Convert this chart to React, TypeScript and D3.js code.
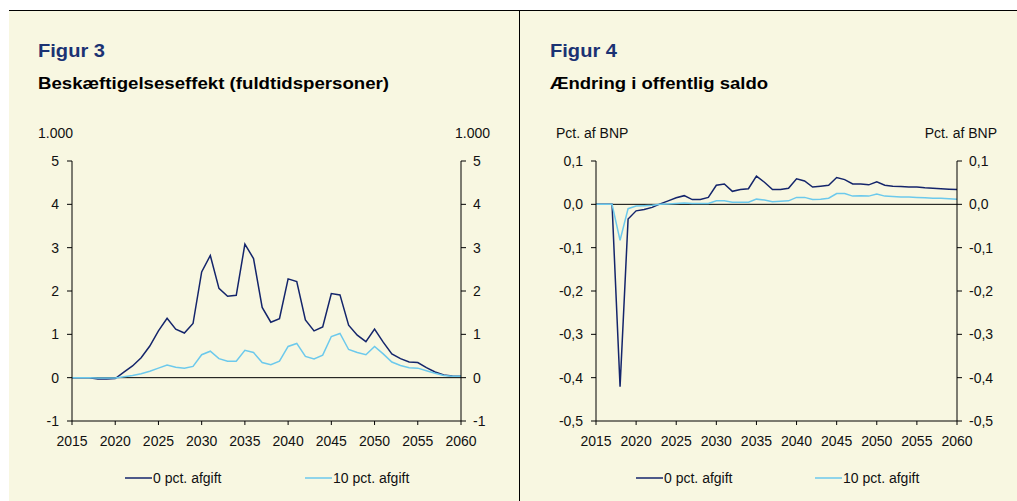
import React from 'react';
import { scaleLinear, line, format, range } from 'd3';

// years 2015..2060
const years = range(2015, 2061);

// Figur 3: beskæftigelseseffekt, 1.000 fuldtidspersoner
const emp0 = [
  0, 0, 0, -0.03, -0.03, -0.02, 0.13, 0.27, 0.46, 0.73,
  1.08, 1.37, 1.12, 1.03, 1.25, 2.44, 2.82, 2.06, 1.88, 1.9,
  3.08, 2.75, 1.62, 1.28, 1.36, 2.28, 2.22, 1.33, 1.08, 1.17,
  1.94, 1.91, 1.21, 0.98, 0.83, 1.12, 0.82, 0.55, 0.44, 0.36,
  0.35, 0.23, 0.13, 0.06, 0.04, 0.03
];
const emp10 = [
  0, 0, 0, -0.01, -0.01, -0.01, 0.02, 0.05, 0.09, 0.15,
  0.22, 0.29, 0.24, 0.22, 0.26, 0.53, 0.61, 0.44, 0.38, 0.38,
  0.63, 0.58, 0.35, 0.3, 0.38, 0.72, 0.79, 0.49, 0.43, 0.52,
  0.95, 1.02, 0.65, 0.58, 0.53, 0.72, 0.55, 0.36, 0.28, 0.23,
  0.22, 0.16, 0.1, 0.05, 0.03, 0.03
];

// Figur 4: ændring i offentlig saldo, pct. af BNP
const bal0 = [
  0, 0, 0, -0.421, -0.034, -0.015, -0.012, -0.007, 0.001, 0.008,
  0.015, 0.02, 0.011, 0.011, 0.016, 0.044, 0.047, 0.03, 0.034, 0.036,
  0.065, 0.051, 0.034, 0.034, 0.037, 0.059, 0.054, 0.04, 0.042, 0.044,
  0.062, 0.057, 0.047, 0.047, 0.045, 0.052, 0.044, 0.042, 0.041, 0.04,
  0.04, 0.038, 0.037, 0.036, 0.035, 0.034
];
const bal10 = [
  0, 0, 0, -0.083, -0.01, -0.004, -0.003, -0.002, 0, 0.001,
  0.002, 0.003, 0.002, 0.002, 0.002, 0.008, 0.008, 0.005, 0.005, 0.005,
  0.012, 0.01, 0.006, 0.007, 0.008, 0.016, 0.016, 0.011, 0.012, 0.014,
  0.025, 0.025, 0.019, 0.02, 0.019, 0.024, 0.019, 0.018, 0.017, 0.017,
  0.016, 0.015, 0.014, 0.014, 0.013, 0.012
];

const xTicks = [2015, 2020, 2025, 2030, 2035, 2040, 2045, 2050, 2055, 2060];
const empTicks = [-1, 0, 1, 2, 3, 4, 5];
const balTicks = [-0.5, -0.4, -0.3, -0.2, -0.1, 0, 0.1];
const seriesNames = ['0 pct. afgift', '10 pct. afgift'];

const DARK = '#14256B';
const LIGHT = '#6CC9EC';
const NAVY = '#1B3273';
const FONT = '"Liberation Sans", Arial, sans-serif';

const commaFmt = (v: number) => format('.1f')(v).replace('.', ',').replace('−', '-');

type PanelProps = {
  left: number;
  x0: number;
  x1: number;
  domain: [number, number];
  ticks: number[];
  fmt: (v: number) => string;
  fig: string;
  title: string;
  titleLen: number;
  unit: string;
  unitRightEnd: number;
  series: number[][];
  legendX: [number, number];
  labelGapL: number;
};

const Panel = (p: PanelProps) => {
  const top = 161;
  const bottom = 421;
  const x = scaleLinear().domain([2015, 2060]).range([p.x0, p.x1]);
  const y = scaleLinear().domain(p.domain).range([bottom, top]);
  const path = line<number>()
    .x((_, i) => x(years[i]))
    .y(d => y(d));
  const colors = [DARK, LIGHT];

  return (
    <g fontFamily={FONT}>
      <text x={p.left} y={57} fontSize={19} fontWeight="bold" fill={NAVY}
        textLength={67} lengthAdjust="spacingAndGlyphs">{p.fig}</text>
      <text x={p.left} y={89} fontSize={16} fontWeight="bold" fill="#000"
        textLength={p.titleLen} lengthAdjust="spacingAndGlyphs">{p.title}</text>
      <text x={p.left + p.labelGapL} y={138} fontSize={14} fill="#111">{p.unit}</text>
      <text x={p.unitRightEnd} y={138} fontSize={14} fill="#111" textAnchor="end">{p.unit}</text>

      {/* zero line */}
      <line x1={p.x0} x2={p.x1} y1={y(0)} y2={y(0)} stroke="#000" strokeWidth={1} />

      {/* series */}
      {p.series.map((s, i) => (
        <path key={i} d={path(s) || ''} fill="none" stroke={colors[i]} strokeWidth={1.5} />
      ))}

      {/* left & right axes */}
      <line x1={p.x0} x2={p.x0} y1={top} y2={bottom} stroke="#000" />
      <line x1={p.x1} x2={p.x1} y1={top} y2={bottom} stroke="#000" />
      {p.ticks.map(t => (
        <g key={t}>
          <line x1={p.x0 - 5} x2={p.x0} y1={y(t)} y2={y(t)} stroke="#000" />
          <line x1={p.x1} x2={p.x1 + 5} y1={y(t)} y2={y(t)} stroke="#000" />
          <text x={p.x0 - 13} y={y(t) + 5} fontSize={14} textAnchor="end" fill="#111">{p.fmt(t)}</text>
          <text x={p.x1 + 12} y={y(t) + 5} fontSize={14} fill="#111">{p.fmt(t)}</text>
        </g>
      ))}

      {/* bottom axis */}
      <line x1={p.x0} x2={p.x1} y1={bottom} y2={bottom} stroke="#000" />
      {xTicks.map(t => (
        <g key={t}>
          <line x1={x(t)} x2={x(t)} y1={bottom} y2={bottom + 4} stroke="#000" />
          <text x={x(t)} y={bottom + 25} fontSize={14} textAnchor="middle" fill="#111">{t}</text>
        </g>
      ))}

      {/* legend */}
      {seriesNames.map((n, i) => (
        <g key={n}>
          <line x1={p.legendX[i]} x2={p.legendX[i] + 27} y1={478} y2={478} stroke={colors[i]} strokeWidth={1.5} />
          <text x={p.legendX[i] + 28} y={483} fontSize={14} fill="#111">{n}</text>
        </g>
      ))}
    </g>
  );
};

export default function App() {
  return (
    <svg
      width={1017}
      height={501}
      style={{ position: 'absolute', left: 0, top: 0, display: 'block' }}
    >
      <rect x={0} y={0} width={1017} height={501} fill="#fff" />
      <rect x={9} y={10} width={1008} height={491} fill="#F8F7E1" />
      <line x1={9} x2={1017} y1={10.5} y2={10.5} stroke="#000" />
      <line x1={519.5} x2={519.5} y1={10} y2={501} stroke="#000" />

      <Panel
        left={38}
        x0={72}
        x1={461}
        domain={[-1, 5]}
        ticks={empTicks}
        fmt={v => format('d')(v).replace('−', '-')}
        fig="Figur 3"
        title="Beskæftigelseseffekt (fuldtidspersoner)"
        titleLen={351}
        unit="1.000"
        unitRightEnd={490}
        series={[emp0, emp10]}
        legendX={[125, 305]}
        labelGapL={0}
      />
      <Panel
        left={550}
        x0={596}
        x1={957}
        domain={[-0.5, 0.1]}
        ticks={balTicks}
        fmt={commaFmt}
        fig="Figur 4"
        title="Ændring i offentlig saldo"
        titleLen={218}
        unit="Pct. af BNP"
        unitRightEnd={997}
        series={[bal0, bal10]}
        legendX={[636, 815]}
        labelGapL={6}
      />
    </svg>
  );
}
